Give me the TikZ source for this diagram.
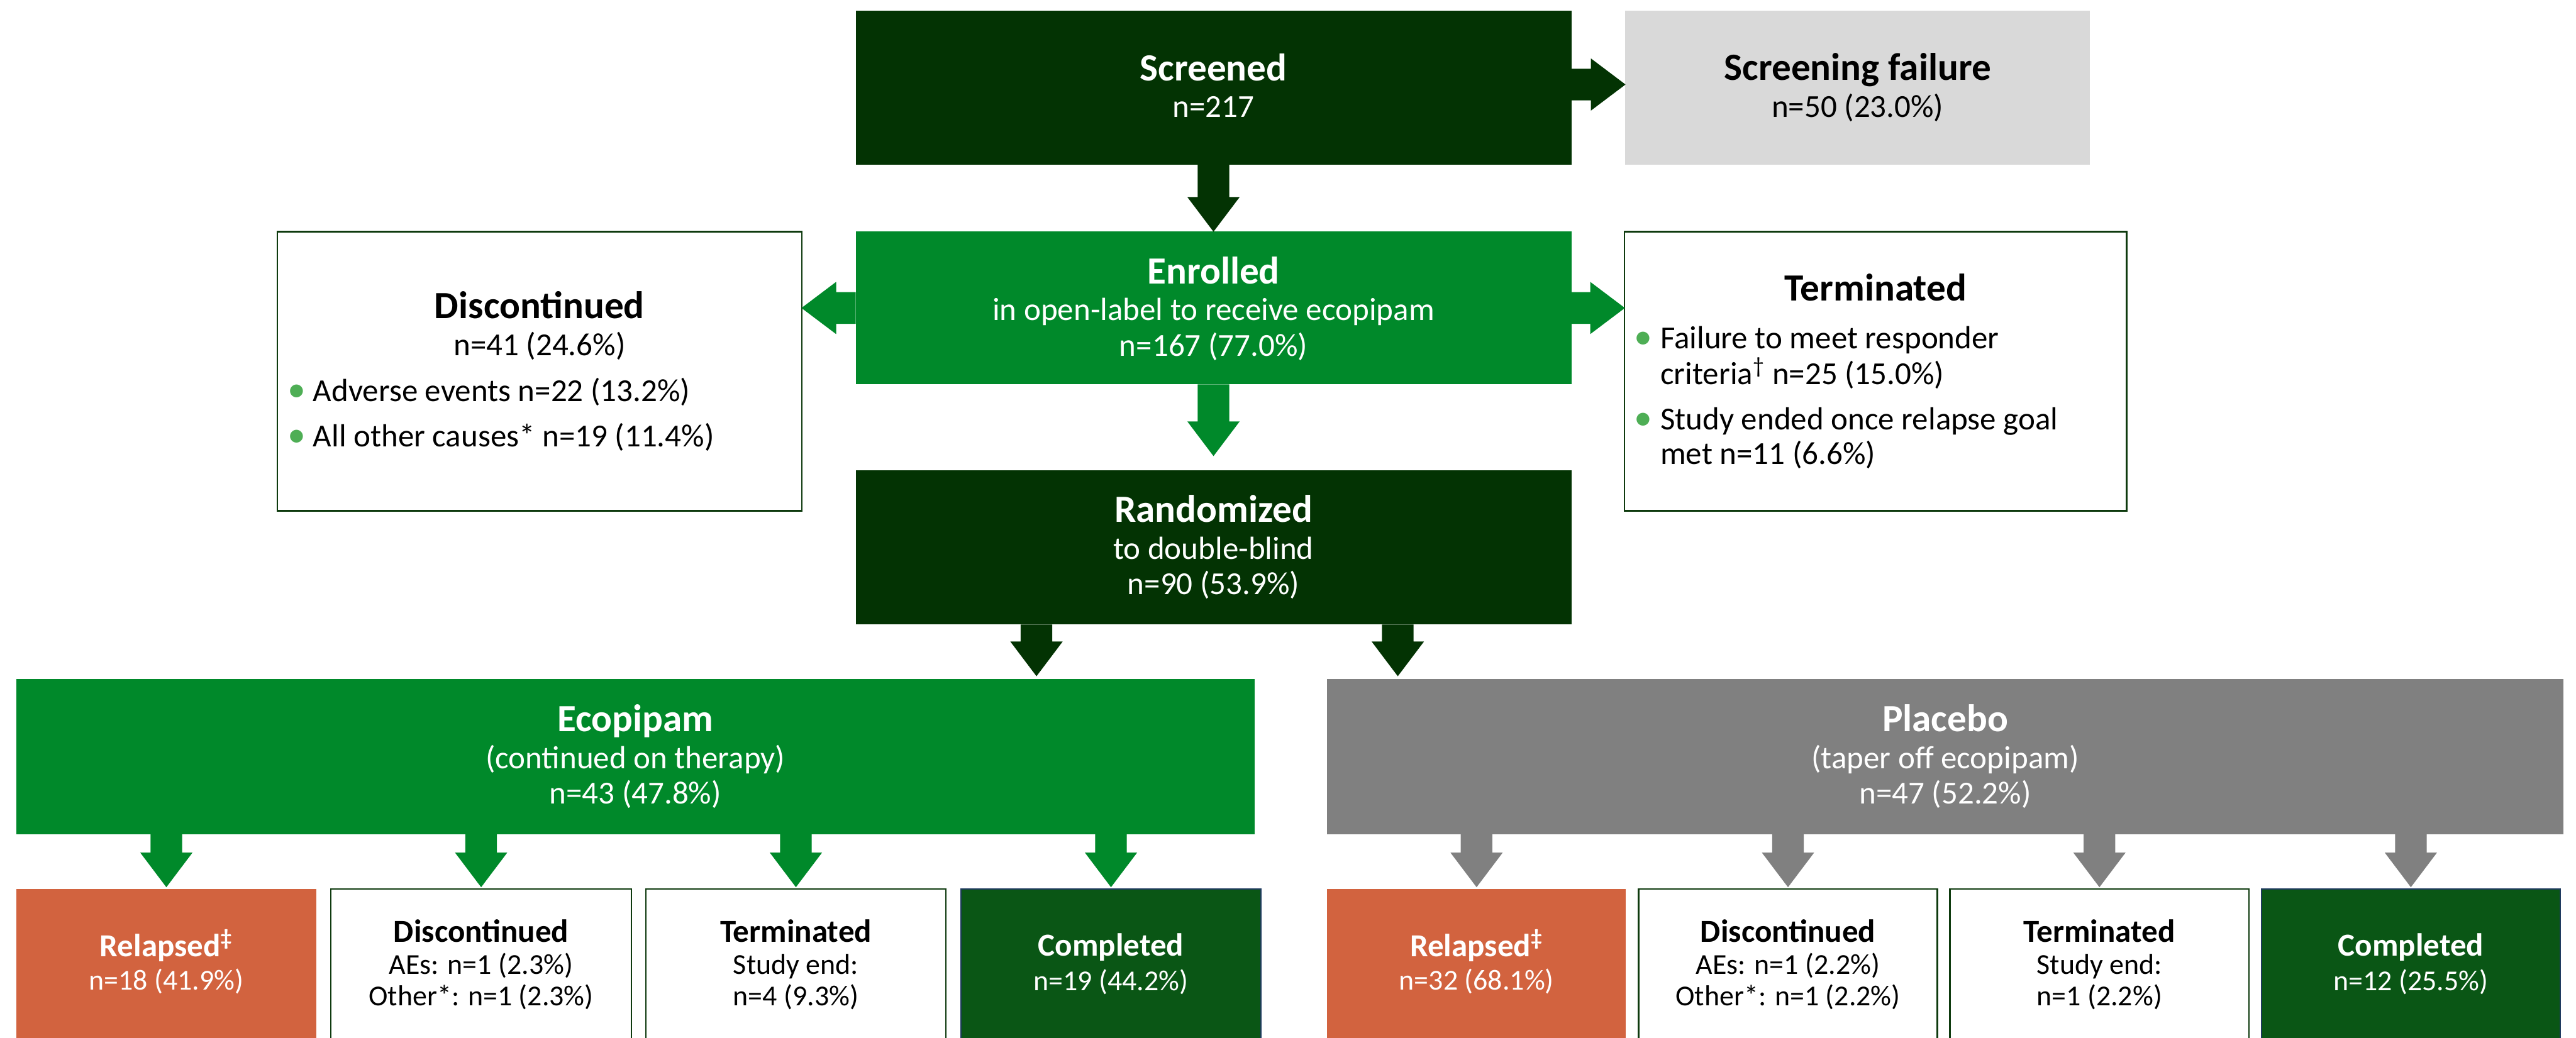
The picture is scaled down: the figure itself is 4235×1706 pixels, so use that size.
\documentclass[tikz,border=0pt]{standalone}
\usepackage{fontspec}
\setmainfont{Carlito}
\usetikzlibrary{calc}
\definecolor{dkgreen}{HTML}{033303}
\definecolor{mdgreen}{HTML}{00892A}
\definecolor{ltgray}{HTML}{D9D9D9}
\definecolor{mdgray}{HTML}{808080}
\definecolor{relorange}{HTML}{D2633F}
\definecolor{cmpgreen}{HTML}{0A5615}
\definecolor{bulgreen}{HTML}{4EAE55}
\definecolor{cmpborder}{HTML}{1F3A60}
\definecolor{boxborder}{HTML}{0E3A0E}
\tikzset{
 box/.style={rectangle, draw=none, inner sep=0pt, outer sep=0pt},
 wbox/.style={rectangle, fill=white, draw=boxborder, line width=0.75pt, inner sep=0pt, outer sep=0pt},
 cbox/.style={rectangle, fill=cmpgreen, draw=cmpborder, line width=0.5pt, inner sep=0pt, outer sep=0pt},
 ttl/.style={anchor=base, inner sep=0pt, font=\fontsize{18}{20}\selectfont\bfseries},
 sub/.style={anchor=base, inner sep=0pt, font=\fontsize{15}{17}\selectfont},
 bttl/.style={anchor=base, inner sep=0pt, font=\fontsize{15}{17}\selectfont\bfseries},
 bsub/.style={anchor=base, inner sep=0pt, font=\fontsize{13.5}{15}\selectfont},
 bl/.style={anchor=base west, inner sep=0pt, font=\fontsize{15}{17}\selectfont},
 bdot/.style={anchor=base, inner sep=0pt, font=\fontsize{17}{17}\selectfont, text=bulgreen},
}
\newcommand\ArrDown[3]{\fill[#3] ($#1+(-26,0)$) -- ++(52,0) -- ++(0,#2) -- ++(17,0) -- ++(-43,57) -- ++(-43,-57) -- ++(17,0) -- cycle;}
\newcommand\ArrRight[3]{\fill[#3] ($#1+(0,-26)$) -- ++(#2,0) -- ++(0,-17) -- ++(57,43) -- ++(-57,43) -- ++(0,-17) -- ++(-#2,0) -- cycle;}
\newcommand\ArrLeft[3]{\fill[#3] ($#1+(0,-26)$) -- ++(-#2,0) -- ++(0,-17) -- ++(-57,43) -- ++(57,43) -- ++(0,-17) -- ++(#2,0) -- cycle;}
\begin{document}
\begin{tikzpicture}[x=0.01cm, y=-0.01cm]
\useasboundingbox[fill=white] (0,0) rectangle (4235,1706);
% boxes
\node[box, fill=dkgreen, minimum width=11.76cm, minimum height=2.53cm] (scr) at (1995,144.5) {};
\node[box, fill=ltgray, minimum width=7.64cm, minimum height=2.53cm] (sf) at (3054,144.5) {};
\node[box, fill=mdgreen, minimum width=11.76cm, minimum height=2.51cm] (enr) at (1995,506.5) {};
\node[wbox, minimum width=8.62cm, minimum height=4.59cm] (dis) at (887,610.5) {};
\node[wbox, minimum width=8.25cm, minimum height=4.59cm] (ter) at (3083.5,610.5) {};
\node[box, fill=dkgreen, minimum width=11.76cm, minimum height=2.54cm] (rnd) at (1995,900) {};
\node[box, fill=mdgreen, minimum width=20.35cm, minimum height=2.55cm] (eco) at (1044.5,1244.5) {};
\node[box, fill=mdgray, minimum width=20.32cm, minimum height=2.55cm] (pla) at (3198,1244.5) {};
\node[box, fill=relorange, minimum width=4.93cm, minimum height=2.58cm] (rela) at (273.5,1591) {};
\node[wbox, minimum width=4.94cm, minimum height=2.58cm] (disa) at (791,1591) {};
\node[wbox, minimum width=4.93cm, minimum height=2.58cm] (tera) at (1308.5,1591) {};
\node[cbox, minimum width=4.93cm, minimum height=2.58cm] (coma) at (1826.5,1591) {};
\node[box, fill=relorange, minimum width=4.91cm, minimum height=2.58cm] (relb) at (2427.5,1591) {};
\node[wbox, minimum width=4.91cm, minimum height=2.58cm] (disb) at (2939.5,1591) {};
\node[wbox, minimum width=4.91cm, minimum height=2.58cm] (terb) at (3451.5,1591) {};
\node[cbox, minimum width=4.91cm, minimum height=2.58cm] (comb) at (3963.5,1591) {};
% arrows
\ArrRight{(scr.east)+(0,-5.5)}{32}{dkgreen}
\ArrDown{(scr.south)}{53}{dkgreen}
\ArrLeft{(enr.west)}{32}{mdgreen}
\ArrRight{(enr.east)}{31}{mdgreen}
\ArrDown{(enr.south)}{61}{mdgreen}
\ArrDown{(rnd.south)+(-291,0)}{28}{dkgreen}
\ArrDown{(rnd.south)+(303,0)}{28}{dkgreen}
\ArrDown{(eco.south -| rela.north)}{30}{mdgreen}
\ArrDown{(eco.south -| disa.north)}{30}{mdgreen}
\ArrDown{(eco.south -| tera.north)}{30}{mdgreen}
\ArrDown{(eco.south -| coma.north)}{30}{mdgreen}
\ArrDown{(pla.south -| relb.north)}{30}{mdgray}
\ArrDown{(pla.south -| disb.north)}{30}{mdgray}
\ArrDown{(pla.south -| terb.north)}{30}{mdgray}
\ArrDown{(pla.south -| comb.north)}{30}{mdgray}
% texts
\node[ttl, text=white] (t1) at (1995,133) {Screened};
\node[sub, text=white] (t2) at (1995,193) {n=217};
\node[ttl] (t3) at (3054,132) {Screening failure};
\node[sub] (t4) at (3054,193) {n=50 (23.0\%)};
\node[ttl, text=white] (t5) at (1995,467) {Enrolled};
\node[sub, text=white] (t6) at (1995,527) {in open-label to receive ecopipam};
\node[sub, text=white] (t7) at (1995,586) {n=167 (77.0\%)};
\node[ttl] (t8) at (887,524) {Discontinued};
\node[sub] (t9) at (887,585) {n=41 (24.6\%)};
\node[bdot] (d1) at (488,660) {•};
\node[bl] (t10) at (514,660) {Adverse events n=22 (13.2\%)};
\node[bdot] (d2) at (488,735) {•};
\node[bl] (t11) at (514,735) {All other causes* n=19 (11.4\%)};
\node[ttl] (t12) at (3083.5,495) {Terminated};
\node[bdot] (d3) at (2702,573) {•};
\node[bl] (t13) at (2729,573) {Failure to meet responder};
\node[bl] (t14) at (2729,632) {criteria\textsuperscript{†} n=25 (15.0\%)};
\node[bdot] (d4) at (2702,707) {•};
\node[bl] (t15) at (2729,707) {Study ended once relapse goal};
\node[bl] (t16) at (2729,764) {met n=11 (6.6\%)};
\node[ttl, text=white] (t17) at (1995,859) {Randomized};
\node[sub, text=white] (t18) at (1995,920) {to double-blind};
\node[sub, text=white] (t19) at (1995,978) {n=90 (53.9\%)};
\node[ttl, text=white] (t20) at (1044.5,1203) {Ecopipam};
\node[sub, text=white] (t21) at (1044.5,1264) {(continued on therapy)};
\node[sub, text=white] (t22) at (1044.5,1322) {n=43 (47.8\%)};
\node[ttl, text=white] (t23) at (3198,1203) {Placebo};
\node[sub, text=white] (t24) at (3198,1264) {(taper off ecopipam)};
\node[sub, text=white] (t25) at (3198,1322) {n=47 (52.2\%)};
% bottom row, ecopipam
\node[bttl, text=white] (u1) at (273.5,1573) {Relapsed\textsuperscript{‡}};
\node[bsub, text=white] (u2) at (273.5,1628) {n=18 (41.9\%)};
\node[bttl] (u3) at (791,1549) {Discontinued};
\node[bsub] (u4) at (791,1602) {AEs: n=1 (2.3\%)};
\node[bsub] (u5) at (791,1654) {Other*: n=1 (2.3\%)};
\node[bttl] (u6) at (1308.5,1549) {Terminated};
\node[bsub] (u7) at (1308.5,1602) {Study end:};
\node[bsub] (u8) at (1308.5,1654) {n=4 (9.3\%)};
\node[bttl, text=white] (u9) at (1826.5,1572) {Completed};
\node[bsub, text=white] (u10) at (1826.5,1629) {n=19 (44.2\%)};
% bottom row, placebo
\node[bttl, text=white] (v1) at (2427.5,1573) {Relapsed\textsuperscript{‡}};
\node[bsub, text=white] (v2) at (2427.5,1628) {n=32 (68.1\%)};
\node[bttl] (v3) at (2939.5,1549) {Discontinued};
\node[bsub] (v4) at (2939.5,1602) {AEs: n=1 (2.2\%)};
\node[bsub] (v5) at (2939.5,1654) {Other*: n=1 (2.2\%)};
\node[bttl] (v6) at (3451.5,1549) {Terminated};
\node[bsub] (v7) at (3451.5,1602) {Study end:};
\node[bsub] (v8) at (3451.5,1654) {n=1 (2.2\%)};
\node[bttl, text=white] (v9) at (3963.5,1572) {Completed};
\node[bsub, text=white] (v10) at (3963.5,1629) {n=12 (25.5\%)};
\end{tikzpicture}
\end{document}
